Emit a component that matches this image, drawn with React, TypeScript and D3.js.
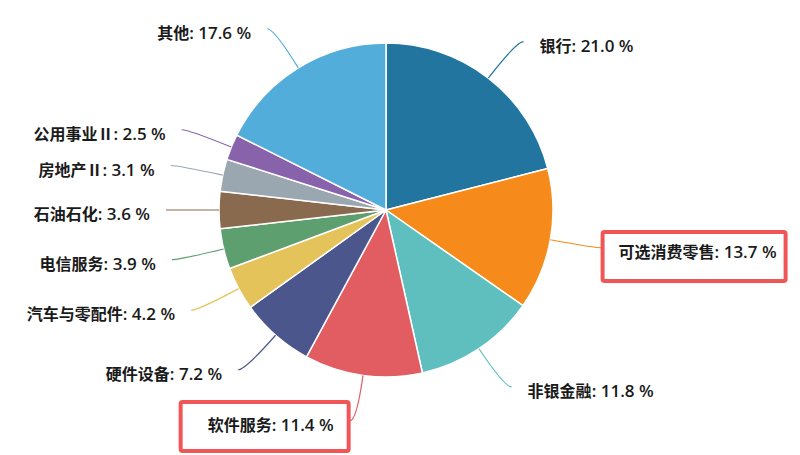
import React, { useEffect, useRef } from 'react';
import * as d3 from 'd3';

const sectors = ['银行', '可选消费零售', '非银金融', '软件服务', '硬件设备', '汽车与零配件', '电信服务', '石油石化', '房地产Ⅱ', '公用事业Ⅱ', '其他'];
const shares = [21.0, 13.7, 11.8, 11.4, 7.2, 4.2, 3.9, 3.6, 3.1, 2.5, 17.6];
const colors = ['#21759f', '#f68a1a', '#5fbfbe', '#e15d61', '#4b578c', '#e4c45a', '#5e9f70', '#8a6a4f', '#9aa6b0', '#8862ab', '#53addb'];
// labels wrapped in a red frame: [left pad, right pad, top pad, bottom pad]
const highlighted = ['可选消费零售', '软件服务'];
const highlightPad = [[16, 9, 20, 29], [27, 15, 23, 26]];

const W = 800;
const H = 455;

const App: React.FC = () => {
  const svgRef = useRef<SVGSVGElement>(null);

  useEffect(() => {
    if (!svgRef.current) return;
    const svg = d3.select(svgRef.current);
    svg.selectAll('*').remove();

    const cx = 386;
    const cy = 210;
    const r = 167;
    const len1 = 46;
    const len2 = 7;
    const gap = 16;
    const textShift = 4;

    const data = sectors.map((name, i) => ({ name, value: shares[i], color: colors[i] }));
    const pie = d3.pie<typeof data[0]>().value(d => d.value).sort(null);
    const arcs = pie(data);
    const arc = d3.arc<d3.PieArcDatum<typeof data[0]>>().innerRadius(0).outerRadius(r);

    const g = svg.append('g').attr('transform', `translate(${cx},${cy})`);

    g.selectAll('path.slice')
      .data(arcs)
      .enter()
      .append('path')
      .attr('class', 'slice')
      .attr('d', arc)
      .attr('fill', d => d.data.color)
      .attr('stroke', '#fff')
      .attr('stroke-width', 1.5)
      .attr('stroke-linejoin', 'round');

    const polar = (a: number, rad: number) => [Math.sin(a) * rad, -Math.cos(a) * rad];

    arcs.forEach(d => {
      const mid = (d.startAngle + d.endAngle) / 2;
      const right = Math.sin(mid) >= 0;
      const p0 = polar(mid, r);
      const p1 = polar(mid, r + len1);
      const p2 = [p1[0] + (right ? len2 : -len2), p1[1]];
      g.append('path')
        .attr('d', `M${p0[0]},${p0[1]} Q${p1[0]},${p1[1]} ${p2[0]},${p2[1]}`)
        .attr('fill', 'none')
        .attr('stroke', d.data.color)
        .attr('stroke-width', 1.2);

      const tyc = p2[1] + textShift;
      const t = g.append('text')
        .attr('x', p2[0] + (right ? gap : -gap))
        .attr('y', tyc)
        .attr('dy', '0.38em')
        .attr('text-anchor', right ? 'start' : 'end')
        .attr('fill', '#1a1a1a');
      t.append('tspan')
        .attr('font-family', '"Noto Sans CJK SC", sans-serif')
        .attr('font-size', 16)
        .attr('font-weight', 700)
        .text(d.data.name);
      t.append('tspan')
        .attr('font-family', '"Open Sans", "Noto Sans CJK SC", sans-serif')
        .attr('font-size', 17)
        .attr('font-weight', 600)
        .text(`: ${d.data.value.toFixed(1)} %`);

      const hi = highlighted.indexOf(d.data.name);
      if (hi >= 0) {
        const bb = (t.node() as SVGTextElement).getBBox();
        const [pl, pr, pt, pb] = highlightPad[hi];
        g.append('rect')
          .attr('x', bb.x - pl)
          .attr('y', tyc - pt)
          .attr('width', bb.width + pl + pr)
          .attr('height', pt + pb)
          .attr('rx', 2)
          .attr('fill', 'none')
          .attr('stroke', '#f05656')
          .attr('stroke-width', 4);
      }
    });
  }, []);

  return (
    <svg
      ref={svgRef}
      width={W}
      height={H}
      viewBox={`0 0 ${W} ${H}`}
      style={{ position: 'absolute', left: 0, top: 0, background: '#fff' }}
    />
  );
};

export default App;
